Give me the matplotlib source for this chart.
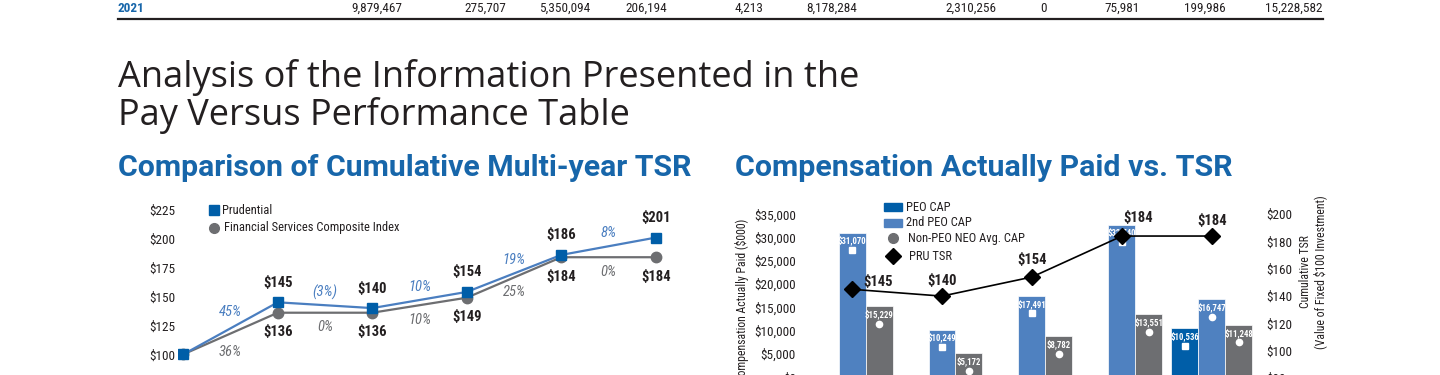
import matplotlib
matplotlib.use('Agg')
import matplotlib.pyplot as plt
import matplotlib.transforms as mtransforms
from matplotlib import font_manager
from matplotlib.lines import Line2D
from matplotlib.patches import Rectangle
import numpy as np

##################################################
# data
##################################################
tsr_years = ['2017', '2018', '2019', '2020', '2021', '2022']
pru_tsr = [100, 145, 140, 154, 186, 201]
index_tsr = [100, 136, 136, 149, 184, 184]
pru_chg = ['45%', '(3%)', '10%', '19%', '8%']
index_chg = ['36%', '0%', '10%', '25%', '0%']

cap_years = ['2018', '2019', '2020', '2021', '2022']
peo_cap = [np.nan, np.nan, np.nan, np.nan, 10536]
peo2_cap = [31070, 10249, 17491, 32740, 16747]
neo_cap = [15229, 5172, 8782, 13551, 11248]
cap_tsr = [145, 140, 154, 184, 184]

table_year = '2021'
table_row = ['9,879,467', '275,707', '5,350,094', '206,194', '4,213', '8,178,284',
             '2,310,256', '0', '75,981', '199,986', '15,228,582']

##################################################
# fonts / colours
##################################################
ttf = font_manager.fontManager.ttflist
names = {f.name for f in ttf}
COND = next((n for n in ['Roboto Condensed', 'Archivo Narrow', 'PT Sans Narrow',
                         'Liberation Sans Narrow'] if n in names), 'DejaVu Sans')
HEAD = next((n for n in ['Open Sans', 'Lato'] if n in names), 'DejaVu Sans')
has_roboto_bold = any(f.name == 'Roboto' and f.weight == 700 for f in ttf)
SUB = 'Roboto' if has_roboto_bold else COND
plt.rcParams['font.family'] = [COND, 'DejaVu Sans']

DARK = '#005ea8'
LIGHT = '#4f81c0'
GRAY = '#6d6e71'
PRU_LINE = '#4a7ec0'
TITLE_BLUE = '#1766aa'
INK = '#231f20'

W, H = 1440, 375


def fx(px):
    return px / W


def fy(py):
    return 1 - py / H


fig = plt.figure(figsize=(W / 100, H / 100), dpi=100)
renderer = fig.canvas.get_renderer()


def fit_width(t, width_px):
    # scale a text so that it spans the same width as in the original page
    bb = t.get_window_extent(renderer)
    t.set_fontsize(t.get_fontsize() * width_px / bb.width)


# table fragment on top
fig.text(fx(118), fy(8), table_year, color=TITLE_BLUE, fontweight='bold', fontsize=9.5, va='center')
right_edges = [402, 506, 590, 667, 763, 857, 996, 1047, 1140, 1226, 1323]
for val, xr in zip(table_row, right_edges):
    fig.text(fx(xr), fy(8), val, color=INK, fontsize=9.5, ha='right', va='center')
fig.add_artist(Line2D([fx(118), fx(1323)], [fy(19), fy(19)], transform=fig.transFigure,
                      color=INK, lw=1.6))

# headings
h1 = fig.text(fx(118), fy(87), 'Analysis of the Information Presented in the', family=HEAD,
              stretch='normal', fontsize=22, color=INK, va='baseline')
fit_width(h1, 739)
fig.text(fx(118), fy(125), 'Pay Versus Performance Table', family=HEAD, stretch='normal',
         fontsize=h1.get_fontsize(), color=INK, va='baseline')
s1 = fig.text(fx(118), fy(176), 'Comparison of Cumulative Multi-year TSR', color=TITLE_BLUE,
              family=SUB, stretch='normal', fontweight='bold', fontsize=17, va='baseline')
fit_width(s1, 574)
s2 = fig.text(fx(735), fy(176), 'Compensation Actually Paid vs. TSR', color=TITLE_BLUE,
              family=SUB, stretch='normal', fontweight='bold', fontsize=17, va='baseline')
fit_width(s2, 498)

##################################################
# left chart: cumulative TSR
##################################################
ax1 = fig.add_axes([fx(178), fy(400), (670 - 178) / W, 200 / H])
xs = np.arange(len(tsr_years))
ax1.plot(xs, index_tsr, color=GRAY, lw=1.6, marker='o', ms=7.5, mfc=GRAY, mec=GRAY, zorder=2)
ax1.plot(xs, pru_tsr, color=PRU_LINE, lw=1.6, marker='s', ms=7.5, mfc=DARK, mec=DARK, zorder=3)
ax1.set_xlim(-0.056, 5.15)
ax1.set_ylim(60.5, 233.5)
ax1.set_yticks(np.arange(100, 226, 25))
ax1.set_yticklabels([f'${v}' for v in range(100, 226, 25)])
ax1.set_xticks([])
ax1.tick_params(axis='y', length=0, pad=2, labelsize=9.5, labelcolor=INK)
for s in ax1.spines.values():
    s.set_visible(False)

for i in range(1, len(xs)):
    ax1.annotate(f'${pru_tsr[i]}', (i, pru_tsr[i]), xytext=(0, 14), textcoords='offset points',
                 ha='center', va='center', fontweight='bold', fontsize=10.5, color=INK)
    ax1.annotate(f'${index_tsr[i]}', (i, index_tsr[i]), xytext=(0, -14), textcoords='offset points',
                 ha='center', va='center', fontweight='bold', fontsize=10.5, color=INK)

for i in range(len(pru_chg)):
    up = 12 if i == 0 else 9.5
    down = 13.5 if i == 0 else 10.5
    ax1.annotate(pru_chg[i], (i + 0.5, (pru_tsr[i] + pru_tsr[i + 1]) / 2), xytext=(0, up),
                 textcoords='offset points', ha='center', va='center', style='italic',
                 fontsize=10.5, color=PRU_LINE)
    ax1.annotate(index_chg[i], (i + 0.5, (index_tsr[i] + index_tsr[i + 1]) / 2), xytext=(0, -down),
                 textcoords='offset points', ha='center', va='center', style='italic',
                 fontsize=10.5, color=GRAY)

# legend
fig.add_artist(Line2D([fx(214)], [fy(210)], transform=fig.transFigure, marker='s', ms=6.5,
                      color=DARK, lw=0))
fig.add_artist(Line2D([fx(214)], [fy(227.7)], transform=fig.transFigure, marker='o', ms=7,
                      color=GRAY, lw=0))
fig.text(fx(222), fy(210), 'Prudential', fontsize=9, va='center', color=INK)
fig.text(fx(224), fy(227.7), 'Financial Services Composite Index', fontsize=9, va='center', color=INK)

##################################################
# right chart: CAP vs TSR
##################################################
ax2 = fig.add_axes([fx(800), fy(400), (1262 - 800) / W, 200 / H])
x = np.arange(len(cap_years))
w = 0.3
ax2.bar(x - w, peo_cap, w, color=DARK, edgecolor='white', lw=0.5)
ax2.bar(x, peo2_cap, w, color=LIGHT, edgecolor='white', lw=0.5)
ax2.bar(x + w, neo_cap, w, color=GRAY, edgecolor='white', lw=0.5)
ax2.set_xlim(-0.578, 4.556)
ax2.set_ylim(-4850, 38047)
ax2.set_yticks(np.arange(0, 35001, 5000))
ax2.set_yticklabels([f'${v:,}' for v in range(0, 35001, 5000)])
ax2.set_xticks([])
ax2.tick_params(axis='y', length=0, pad=3, labelsize=9.5, labelcolor=INK)
for s in ax2.spines.values():
    s.set_visible(False)

mark_off = mtransforms.offset_copy(ax2.transData, fig=fig, y=-12.6, units='points')
for i in x:
    has_peo = not np.isnan(peo_cap[i])
    bars = [(i - w, peo_cap[i], 's'), (i, peo2_cap[i], 'o' if has_peo else 's'), (i + w, neo_cap[i], 'o')]
    for bx, bv, mk in bars:
        if np.isnan(bv):
            continue
        ax2.annotate(f'${bv:,.0f}', (bx, bv), xytext=(0, -5.8), textcoords='offset points',
                     ha='center', va='center', color='white', fontweight='bold', fontsize=6.3)
        ax2.plot([bx], [bv], marker=mk, ms=4.5, color='white', lw=0, transform=mark_off)

ax3 = ax2.twinx()
ax3.plot(x, cap_tsr, color='black', lw=1.2, marker='D', ms=8)
ax3.set_ylim(63.9, 210.4)
ax3.set_yticks(np.arange(80, 201, 20))
ax3.set_yticklabels([f'${v}' for v in range(80, 201, 20)])
ax3.tick_params(axis='y', length=0, pad=3, labelsize=9.5, labelcolor=INK)
for s in ax3.spines.values():
    s.set_visible(False)

label_off = [(26, 7), (0, 15), (0, 17), (16, 18), (0, 15)]
for i in x:
    dx, dy = label_off[i]
    ax3.annotate(f'${cap_tsr[i]}', (i, cap_tsr[i]), xytext=(dx * 0.72, dy * 0.72),
                 textcoords='offset points', ha='center', va='center',
                 fontweight='bold', fontsize=10.5, color=INK)

fig.text(fx(742), fy(300), 'Compensation Actually Paid ($000)', rotation=90, ha='center',
         va='center', fontsize=8.5, color=INK)
fig.text(fx(1313), fy(272), 'Cumulative TSR\n(Value of Fixed $100 Investment)', rotation=90,
         ha='center', va='center', multialignment='center', fontsize=8.5, color=INK,
         linespacing=1.1)

# legend
fig.add_artist(Rectangle((fx(884), fy(211.5)), 18 / W, 8 / H, transform=fig.transFigure,
                         color=DARK))
fig.add_artist(Rectangle((fx(884), fy(226.5)), 18 / W, 8 / H, transform=fig.transFigure,
                         color=LIGHT))
fig.add_artist(Line2D([fx(893)], [fy(238.3)], transform=fig.transFigure, marker='o', ms=7,
                      color=GRAY, lw=0))
fig.add_artist(Line2D([fx(893)], [fy(256.3)], transform=fig.transFigure, marker='D', ms=8,
                      color='black', lw=0))
for ty, txt, tx in [(207.7, 'PEO CAP', 906), (222.3, '2nd PEO CAP', 906),
                    (238.3, 'Non-PEO NEO Avg. CAP', 908), (256.5, 'PRU TSR', 909)]:
    fig.text(fx(tx), fy(ty), txt, fontsize=9, va='center', color=INK)

fig.savefig('out.png', dpi=100)
